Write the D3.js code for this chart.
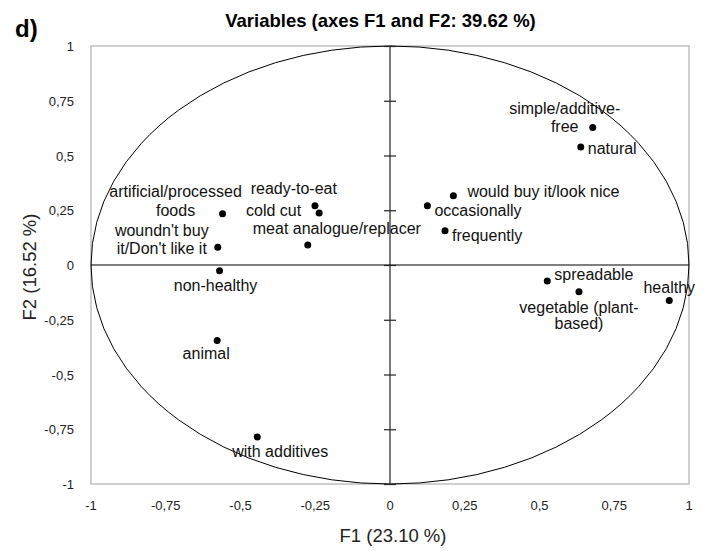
<!DOCTYPE html>
<html>
<head>
<meta charset="utf-8">
<script src="https://cdn.jsdelivr.net/npm/d3@7"></script>
<style>
  body { margin: 0; background: #fff; }
  text { font-family: "Liberation Sans", Arial, sans-serif; }
</style>
</head>
<body>
<div id="chart"></div>
<script>
// variables (F1, F2 coordinates)
var names = [
  "simple/additive-free", "natural", "would buy it/look nice", "occasionally",
  "frequently", "spreadable", "vegetable (plant-based)", "healthy",
  "artificial/processed foods", "woundn't buy it/Don't like it", "non-healthy",
  "ready-to-eat", "cold cut", "meat analogue/replacer", "animal", "with additives"
]
var f1 = [0.678, 0.638, 0.212, 0.125, 0.184, 0.526, 0.632, 0.934,
  -0.56, -0.576, -0.57, -0.251, -0.237, -0.275, -0.578, -0.444]
var f2 = [0.628, 0.539, 0.316, 0.271, 0.156, -0.073, -0.122, -0.162,
  0.234, 0.081, -0.026, 0.27, 0.237, 0.091, -0.345, -0.785]
var tickValues = [-1, -0.75, -0.5, -0.25, 0, 0.25, 0.5, 0.75, 1]
var tickLabels = ["-1", "-0,75", "-0,5", "-0,25", "0", "0,25", "0,5", "0,75", "1"]

// label placement (pixels relative to the dot)
var labelLayout = [
  { lines: ["simple/additive-", "free"], anchor: "middle", dx: -28, dy: -13, lh: 18 },
  { lines: ["natural"], anchor: "start", dx: 7, dy: 7 },
  { lines: ["would buy it/look nice"], anchor: "start", dx: 14, dy: 1 },
  { lines: ["occasionally"], anchor: "start", dx: 7, dy: 10 },
  { lines: ["frequently"], anchor: "start", dx: 7, dy: 10 },
  { lines: ["spreadable"], anchor: "start", dx: 7, dy: -1 },
  { lines: ["vegetable (plant-", "based)"], anchor: "middle", dx: 0, dy: 21, lh: 16 },
  { lines: ["healthy"], anchor: "middle", dx: 0, dy: -7 },
  { lines: ["artificial/processed", "foods"], anchor: "middle", dx: -47, dy: -17, lh: 19 },
  { lines: ["woundn't buy", "it/Don't like it"], anchor: "middle", dx: -56, dy: -11, lh: 18 },
  { lines: ["non-healthy"], anchor: "middle", dx: -4, dy: 20 },
  { lines: ["ready-to-eat"], anchor: "end", dx: 22, dy: -12 },
  { lines: ["cold cut"], anchor: "end", dx: -18, dy: 3 },
  { lines: ["meat analogue/replacer"], anchor: "start", dx: -55, dy: -11 },
  { lines: ["animal"], anchor: "middle", dx: -11, dy: 18 },
  { lines: ["with additives"], anchor: "middle", dx: 23, dy: 20 }
]

var width = 713, height = 551
var svg = d3.select("#chart").append("svg")
  .attr("width", width)
  .attr("height", height)

var x = d3.scaleLinear().domain([-1, 1]).range([91, 689])
var y = d3.scaleLinear().domain([-1, 1]).range([484, 46])

// plot frame
svg.append("rect")
  .attr("x", x(-1)).attr("y", y(1))
  .attr("width", x(1) - x(-1)).attr("height", y(-1) - y(1))
  .attr("fill", "none").attr("stroke", "#c0c0c0").attr("stroke-width", 1.5)

// correlation circle
svg.append("ellipse")
  .attr("cx", x(0)).attr("cy", y(0))
  .attr("rx", x(1) - x(0)).attr("ry", y(-1) - y(0))
  .attr("fill", "none").attr("stroke", "#000").attr("stroke-width", 1)

// horizontal axis line (no ticks)
svg.append("line")
  .attr("x1", x(-1)).attr("x2", x(1))
  .attr("y1", y(0)).attr("y2", y(0))
  .attr("stroke", "#000").attr("stroke-width", 1.2)

// vertical axis line with cross ticks
var yAxis = d3.axisLeft(y).tickValues(tickValues).tickFormat("").tickSizeInner(-12).tickSizeOuter(0)
var gy = svg.append("g")
  .attr("transform", "translate(" + (x(0) - 6) + ",0)")
  .call(yAxis)
gy.select(".domain").remove()
gy.selectAll(".tick line").attr("stroke", "#222").attr("stroke-width", 1.2)
svg.append("line")
  .attr("x1", x(0)).attr("x2", x(0))
  .attr("y1", y(1)).attr("y2", y(-1))
  .attr("stroke", "#222").attr("stroke-width", 1.2)

// tick labels
svg.append("g").selectAll("text")
  .data(tickValues)
  .join("text")
  .attr("x", 74)
  .attr("y", function(d) { return y(d) + 5 })
  .attr("text-anchor", "end")
  .attr("font-size", 13)
  .attr("fill", "#222")
  .text(function(d, i) { return tickLabels[i] })

svg.append("g").selectAll("text")
  .data(tickValues)
  .join("text")
  .attr("x", function(d) { return x(d) })
  .attr("y", 510)
  .attr("text-anchor", "middle")
  .attr("font-size", 13)
  .attr("fill", "#222")
  .text(function(d, i) { return tickLabels[i] })

// axis titles
svg.append("text")
  .attr("x", 393).attr("y", 542)
  .attr("text-anchor", "middle")
  .attr("font-size", 18.5)
  .attr("fill", "#222")
  .text("F1 (23.10 %)")

svg.append("text")
  .attr("transform", "translate(36," + (y(0) + 2) + ") rotate(-90)")
  .attr("text-anchor", "middle")
  .attr("font-size", 18.5)
  .attr("fill", "#222")
  .text("F2 (16.52 %)")

// chart title and panel letter
svg.append("text")
  .attr("x", 380.5).attr("y", 27)
  .attr("text-anchor", "middle")
  .attr("font-size", 18.5)
  .attr("font-weight", "bold")
  .text("Variables (axes F1 and F2: 39.62 %)")

svg.append("text")
  .attr("x", 15).attr("y", 37)
  .attr("font-size", 24)
  .attr("font-weight", "bold")
  .text("d)")

// points
var pts = names.map(function(n, i) { return { name: n, f1: f1[i], f2: f2[i], lab: labelLayout[i] } })

svg.append("g").selectAll("circle")
  .data(pts)
  .join("circle")
  .attr("cx", function(d) { return x(d.f1) })
  .attr("cy", function(d) { return y(d.f2) })
  .attr("r", 3.5)
  .attr("fill", "#000")

var labels = svg.append("g").selectAll("text")
  .data(pts)
  .join("text")
  .attr("font-size", 16)
  .attr("fill", "#111")
  .attr("text-anchor", function(d) { return d.lab.anchor })

labels.each(function(d) {
  var t = d3.select(this)
  d.lab.lines.forEach(function(line, j) {
    t.append("tspan")
      .attr("x", x(d.f1) + d.lab.dx)
      .attr("y", y(d.f2) + d.lab.dy + j * (d.lab.lh || 0))
      .text(line)
  })
})
</script>
</body>
</html>
